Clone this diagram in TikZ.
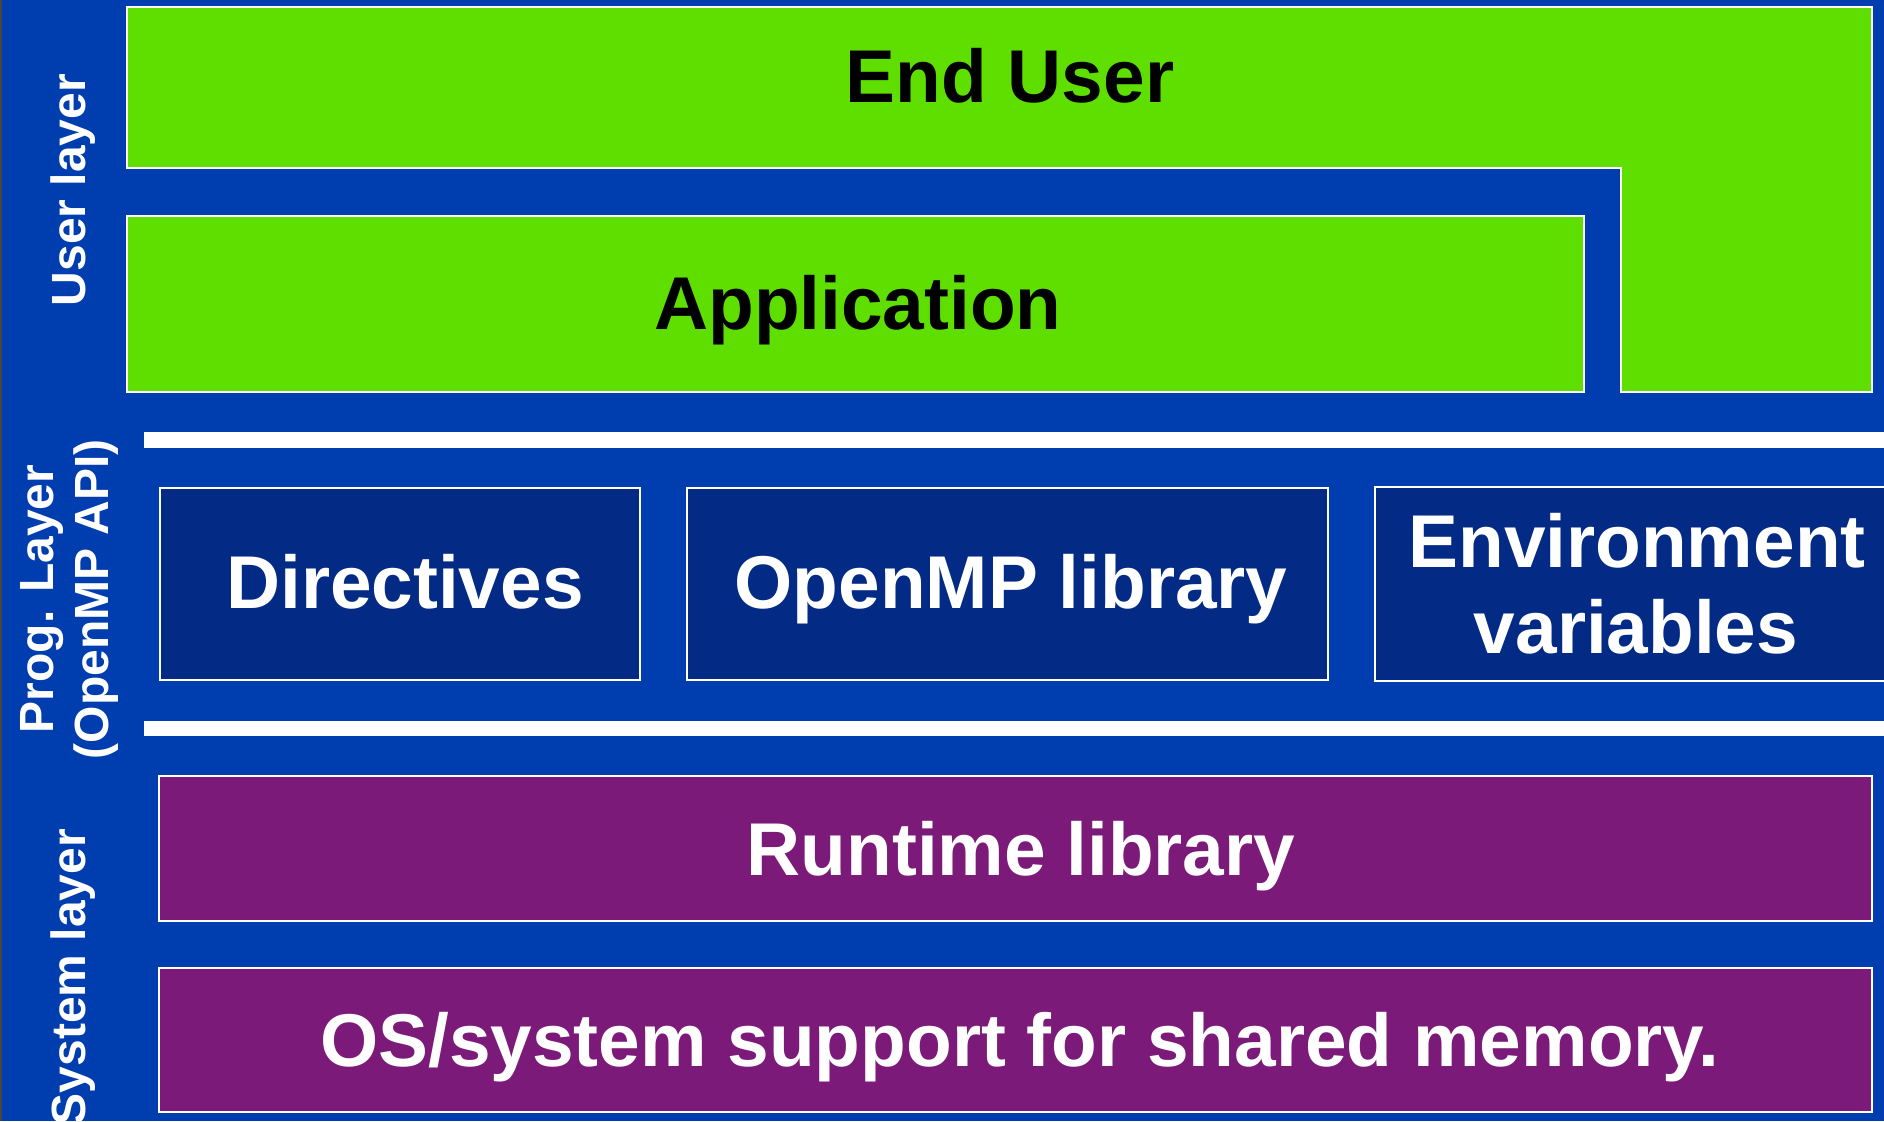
\documentclass[tikz,border=0pt]{standalone}
\usepackage{fontspec}
\setmainfont{Liberation Sans}
\definecolor{bgblue}{RGB}{0,61,175}
\definecolor{navybox}{RGB}{3,43,134}
\definecolor{userbox}{RGB}{94,223,0}
\definecolor{sysbox}{RGB}{123,26,120}
\definecolor{edgegray}{RGB}{70,70,70}
\tikzset{
  frame/.style={draw=white, line width=1pt},
  bigtext/.style={font=\fontsize{37.4}{44}\selectfont\bfseries, inner sep=0pt, anchor=base},
  sidetext/.style={font=\fontsize{24}{28}\selectfont\bfseries, text=white, inner sep=0pt, anchor=base, rotate=90},
  bar/.style={fill=white}
}
\begin{document}
\begin{tikzpicture}[x=0.5pt, y=0.5pt]
  \useasboundingbox (0,0) rectangle (1884,-1121);
  \clip (0,0) rectangle (1884,-1121);
  % background
  \fill[bgblue] (0,0) rectangle (1884,-1121);
  \fill[edgegray] (0,0) rectangle (2,-1121);

  % user layer
  \path[frame, fill=userbox] (127,-7) -- (1872,-7) -- (1872,-392) -- (1621,-392)
     -- (1621,-168) -- (127,-168) -- cycle;
  \path[frame, fill=userbox] (127,-216) rectangle (1584,-392);
  \node[bigtext, text=black] (enduser) at (1010,-102) {End User};
  \node[bigtext, text=black] (app) at (858,-329) {Application};

  % separators of the programming layer
  \fill[bar] (144,-432) rectangle (1884,-448);
  \fill[bar] (144,-721) rectangle (1884,-736);

  % programming layer
  \path[frame, fill=navybox] (160,-488) rectangle (640,-680);
  \path[frame, fill=navybox] (687,-488) rectangle (1328,-680);
  \path[frame, fill=navybox] (1375,-487) rectangle (1900,-681);
  \node[bigtext, text=white] (dir) at (405,-608) {Directives};
  \node[bigtext, text=white] (omplib) at (1011,-608) {OpenMP library};
  \node[bigtext, text=white] (env1) at (1637,-567) {Environment};
  \node[bigtext, text=white] (env2) at (1636,-653) {variables};

  % system layer
  \path[frame, fill=sysbox] (159,-776) rectangle (1872,-921);
  \path[frame, fill=sysbox] (159,-968) rectangle (1872,-1112);
  \node[bigtext, text=white] (rtl) at (1021,-875) {Runtime library};
  \node[bigtext, text=white] (os) at (1020,-1066) {OS/system support for shared memory.};

  % layer captions
  \node[sidetext] (userlayer) at (85,-190) {User layer};
  \node[sidetext] (proglayer) at (53,-599) {Prog. Layer};
  \node[sidetext] (ompapi) at (108,-599) {(OpenMP API)};
  \node[sidetext] (syslayer) at (85,-977) {System layer};
\end{tikzpicture}
\end{document}
